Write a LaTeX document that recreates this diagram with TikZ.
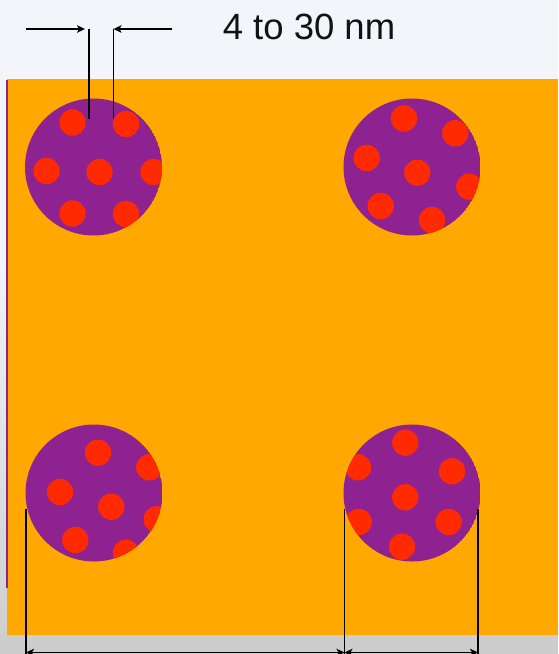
\documentclass[tikz,border=0pt]{standalone}
\usepackage{fontspec}
\setmainfont{Liberation Sans}
\usetikzlibrary{arrows.meta}
\definecolor{bgtop}{HTML}{F3F5FA}
\definecolor{bggray}{HTML}{CDCDCD}
\definecolor{hostorange}{HTML}{FFA800}
\definecolor{porepurple}{HTML}{8E2291}
\definecolor{dotred}{HTML}{FF2A00}
\tikzset{
  dimline/.style={line width=1.9pt, black},
  dimarrow/.style={line width=1.6pt, black},
  tipstyle/.style={arrows={-Stealth[length=8pt,width=7.5pt,inset=2pt]}},
  poredisk/.style={fill=porepurple},
  reddot/.style={fill=dotred}
}
\newcommand{\mypore}[3]{%
  \begin{scope}
    \path[clip] (#1,#2) circle (68.5);
    \fill[poredisk] (#1,#2) circle (68.5);
    \foreach \dx/\dy in {#3} {\fill[reddot] (#1+\dx,#2+\dy) circle (13.2);}
  \end{scope}}
\begin{document}
\begin{tikzpicture}[x=1pt,y=-1pt]
\useasboundingbox (0,0) rectangle (558,654);
% background
\fill[bgtop] (0,0) rectangle (558,654);
\shade[top color=bgtop, bottom color=bggray] (0,250) rectangle (8,654);
\fill[bggray] (0,635) rectangle (558,654);
% host matrix
\fill[hostorange] (7,79) rectangle (558,635);
\fill[porepurple] (6,80) rectangle (8,588);
% pores
\mypore{93.5}{167}{-21/-44.5, 32.5/-43, -47/4, 6/5, 60/5, -21/46.5, 32.5/47}
\mypore{412}{167}{-8/-48.5, 43.3/-33.7, -45.3/-9, 5.3/5.7, 57.3/19.7, -31.3/39, 20/53}
\mypore{94}{493}{4/-40.3, 55.3/-25.7, -34/-1, 17.3/13.7, 62.7/26.3, -18.7/47, 32/59.7}
\mypore{412}{493}{-6.7/-50.3, -54/-25.7, 40/-21.7, -6.7/4.3, -53.3/29, 36.7/29, -10/53.7}
% top dimension
\coordinate (tl0) at (26,29);
\coordinate (tl1) at (85,29);
\coordinate (va0) at (88.7,28.5);
\coordinate (va1) at (88.7,119);
\coordinate (tr0) at (172,29);
\coordinate (tr1) at (113.5,29);
\coordinate (vb0) at (113.5,28.5);
\coordinate (vb1) at (113.5,119);
\draw[dimarrow, tipstyle] (tl0) -- (tl1);
\draw[dimarrow, tipstyle] (tr0) -- (tr1);
\draw[dimline] (va0) -- (va1);
\draw[dimline] (vb0) -- (vb1);
\node[font=\fontsize{36.5}{40}\selectfont, text=black!93, anchor=base, inner sep=0pt] (lbl) at (309,39) {4 to 30 nm};
% bottom dimension
\coordinate (b0t) at (26,509);
\coordinate (b0b) at (26,654);
\coordinate (b1t) at (344.5,509);
\coordinate (b1b) at (344.5,654);
\coordinate (b2t) at (478,509);
\coordinate (b2b) at (478,654);
\draw[dimline] (b0t) -- (b0b);
\draw[dimline] (b1t) -- (b1b);
\draw[dimline] (b2t) -- (b2b);
\coordinate (h0) at (26,652.5);
\coordinate (h1) at (344.5,652.5);
\coordinate (h2) at (478,652.5);
\draw[dimarrow, arrows={Stealth[length=8pt,width=7.5pt,inset=2pt]-Stealth[length=8pt,width=7.5pt,inset=2pt]}] (h0) -- (h1);
\draw[dimarrow, arrows={Stealth[length=8pt,width=7.5pt,inset=2pt]-Stealth[length=8pt,width=7.5pt,inset=2pt]}] (h1) -- (h2);
\end{tikzpicture}
\end{document}
